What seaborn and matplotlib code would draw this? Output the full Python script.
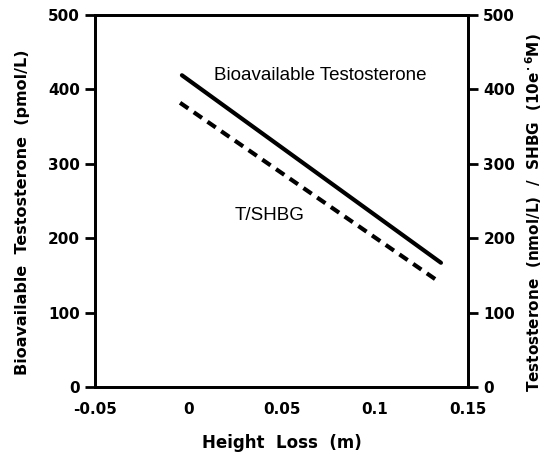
import pandas as pd
import numpy as np
import matplotlib
matplotlib.use("Agg")
import matplotlib.pyplot as plt
import seaborn as sns

# values
height_loss = [-0.0034, 0.1355]
bioavailable_t = [419, 167]
t_shbg_x = [-0.0044, 0.133]
t_shbg = [382, 144]

x_ticks = [-0.05, 0, 0.05, 0.1, 0.15]
x_ticklabels = ["-0.05", "0", "0.05", "0.1", "0.15"]
y_ticks = [0, 100, 200, 300, 400, 500]

df = pd.DataFrame({
    "HeightLoss": height_loss + t_shbg_x,
    "Value": bioavailable_t + t_shbg,
    "Series": ["Bioavailable Testosterone"] * 2 + ["T/SHBG"] * 2,
})

sns.set_style("white")
plt.rcParams["font.family"] = ["DejaVu Sans"]
plt.rcParams["text.color"] = "black"
plt.rcParams["axes.labelcolor"] = "black"

fig = plt.figure(figsize=(5.48, 4.61), dpi=100)
ax = fig.add_axes([0.1734, 0.1605, 0.6806, 0.807])

sns.lineplot(data=df, x="HeightLoss", y="Value", style="Series",
             dashes={"Bioavailable Testosterone": "", "T/SHBG": (2.4, 1.6)},
             color="black", linewidth=3, legend=False, ax=ax)

ax.set_xlim(-0.05, 0.15)
ax.set_ylim(0, 500)
ax.set_xticks(x_ticks)
ax.set_xticklabels(x_ticklabels)
ax.set_yticks(y_ticks)
for s in ax.spines.values():
    s.set_linewidth(2)
    s.set_color("black")
ax.tick_params(direction="out", length=7, width=2, colors="black",
               labelsize=11, pad=4)
for lab in ax.get_xticklabels() + ax.get_yticklabels():
    lab.set_fontweight("bold")

ax.set_xlabel("Height  Loss  (m)", fontsize=12, fontweight="bold", labelpad=12)
ax.set_ylabel("Bioavailable  Testosterone  (pmol/L)", fontsize=11.5,
              fontweight="bold")
ax.yaxis.set_label_coords(-0.175, 0.47)

ax2 = ax.twinx()
ax2.set_ylim(0, 500)
ax2.set_yticks(y_ticks)
ax2.tick_params(direction="out", length=7, width=2, colors="black",
                labelsize=11, pad=4)
for lab in ax2.get_yticklabels():
    lab.set_fontweight("bold")
for s in ax2.spines.values():
    s.set_linewidth(2)
    s.set_color("black")
ax2.set_ylabel(r"Testosterone  (nmol/L)  /  SHBG  (10e$^{\bf\cdot 6}$M)",
               fontsize=11, fontweight="bold")
ax2.yaxis.set_label_coords(1.148, 0.47)

ax.text(0.0706, 419, "Bioavailable Testosterone", fontsize=13.5,
        family="Liberation Sans", ha="center", va="center")
ax.text(0.0438, 231, "T/SHBG", fontsize=13.5, family="Liberation Sans",
        ha="center", va="center")

fig.savefig("out.png", dpi=100)
